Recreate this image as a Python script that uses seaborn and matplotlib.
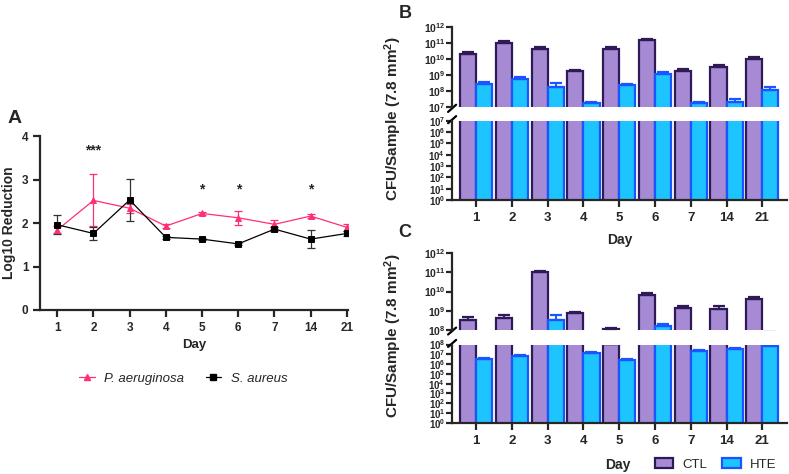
import seaborn as sns
import matplotlib.pyplot as plt
import matplotlib.ticker as mticker
from matplotlib.lines import Line2D
from matplotlib.patches import Patch
import numpy as np
import pandas as pd

# ---- data ----
days = [1, 2, 3, 4, 5, 6, 7, 14, 21]

# panel A: log10 reduction
pa_mean = [1.84, 2.52, 2.34, 1.93, 2.22, 2.12, 1.97, 2.16, 1.90]
pa_err = [0.08, 0.60, 0.10, 0.05, 0.04, 0.16, 0.10, 0.04, 0.08]
sa_mean = [1.96, 1.76, 2.53, 1.67, 1.63, 1.52, 1.86, 1.63, 1.76]
sa_err = [0.22, 0.14, 0.48, 0.03, 0.03, 0.03, 0.04, 0.21, 0.05]
stars = {2: '***', 5: '*', 6: '*', 14: '*'}

# panel B: CFU/sample
b_ctl = [2.1e10, 1.05e11, 4.3e10, 1.7e9, 4.0e10, 1.5e11, 1.7e9, 3.0e9, 1.0e10]
b_ctl_err = [0.6e10, 0.3e11, 1.0e10, 0.4e9, 1.5e10, 0.4e11, 0.6e9, 1.0e9, 0.3e10]
b_hte = [2.8e8, 5.8e8, 1.8e8, 1.7e7, 2.3e8, 1.2e9, 1.7e7, 2.2e7, 1.2e8]
b_hte_err = [0.7e8, 1.5e8, 1.3e8, 0.5e7, 0.5e8, 0.3e9, 0.4e7, 1.0e7, 0.6e8]

# panel C: CFU/sample
c_ctl = [3.3e8, 4.2e8, 1.0e11, 7.6e8, 1.07e8, 6.5e9, 1.45e9, 1.3e9, 4.0e9]
c_ctl_err = [1.2e8, 1.8e8, 0.15e11, 0.8e8, 0.2e8, 1.5e9, 0.3e9, 0.5e9, 1.0e9]
c_hte = [3.3e6, 7.0e6, 3.3e8, 1.5e7, 2.7e6, 1.55e8, 2.3e7, 3.4e7, 7.3e7]
c_hte_err = [0.8e6, 1.5e6, 2.8e8, 0.4e7, 0.6e6, 0.4e8, 0.6e7, 0.9e7, 0.8e7]

PINK = '#ff2d7a'
CTL_FILL, CTL_EDGE = '#a68bd4', '#2e1a56'
HTE_FILL, HTE_EDGE = '#1ec4ff', '#1a55ff'

sns.set_style('ticks')
plt.rcParams['font.family'] = ['Liberation Sans', 'DejaVu Sans']
plt.rcParams['mathtext.fontset'] = 'custom'
plt.rcParams['mathtext.rm'] = 'Liberation Sans'
plt.rcParams['mathtext.bf'] = 'Liberation Sans:bold'
plt.rcParams['axes.linewidth'] = 1.6

fig = plt.figure(figsize=(7.89, 4.74), dpi=100)

# ---------------- panel A ----------------
axA = fig.add_axes([0.051, 0.346, 0.39, 0.367])
dfA = pd.DataFrame({
    'day': days * 2,
    'val': pa_mean + sa_mean,
    'sp': ['P. aeruginosa'] * 9 + ['S. aureus'] * 9,
})
sns.pointplot(data=dfA, x='day', y='val', hue='sp', ax=axA,
              palette={'P. aeruginosa': PINK, 'S. aureus': 'black'},
              markers=['^', 's'], markersize=5, linewidth=0.9,
              errorbar=None, legend=False)
axA.errorbar(range(9), pa_mean, yerr=pa_err, fmt='none', ecolor=PINK,
             elinewidth=0.9, capsize=3, capthick=0.9, zorder=1)
axA.errorbar(range(9), sa_mean, yerr=sa_err, fmt='none', ecolor='#333333',
             elinewidth=0.9, capsize=3, capthick=0.9, zorder=1)
for i, d in enumerate(days):
    if d in stars:
        y = 3.5 if stars[d] == '***' else 2.62
        axA.text(i, y, stars[d], ha='center', va='bottom', fontsize=10, fontweight='bold')
axA.set_ylim(0, 4)
axA.set_xlim(-0.47, 8.03)
axA.set_yticks([0, 1, 2, 3, 4])
axA.set_ylabel('Log10 Reduction', fontsize=10, fontweight='bold')
axA.set_xlabel('Day', fontsize=9.5, fontweight='bold')
axA.tick_params(labelsize=8.5, width=1.6, length=5)
for lab in axA.get_xticklabels() + axA.get_yticklabels():
    lab.set_fontweight('bold')
sns.despine(ax=axA)
handles = [Line2D([], [], color=PINK, marker='^', markersize=5, lw=0.9),
           Line2D([], [], color='black', marker='s', markersize=5, lw=0.9)]
axA.legend(handles, ['P. aeruginosa', 'S. aureus'], loc='upper center',
           bbox_to_anchor=(0.465, -0.29), ncol=2, frameon=False,
           prop={'style': 'italic', 'size': 9.5}, handlelength=1.2,
           columnspacing=1.6, handletextpad=0.7)
fig.text(0.01, 0.74, 'A', fontsize=14, fontweight='bold')


# ---------------- panels B and C (broken log axes) ----------------
def fmt_pow(v, pos):
    return r'$\mathbf{10^{%d}}$' % int(round(np.log10(v)))


def broken_panel(top_rect, bot_rect, ctl, ctl_err, hte, hte_err, top_lim, bot_lim):
    df = pd.DataFrame({
        'day': days * 2,
        'cfu': ctl + hte,
        'grp': ['CTL'] * 9 + ['HTE'] * 9,
    })
    ax_t = fig.add_axes(top_rect)
    ax_b = fig.add_axes(bot_rect)
    for ax, lim in ((ax_t, top_lim), (ax_b, bot_lim)):
        ax.set_yscale('log')
        sns.barplot(data=df, x='day', y='cfu', hue='grp', ax=ax, width=0.9,
                    palette={'CTL': CTL_FILL, 'HTE': HTE_FILL}, saturation=1,
                    linewidth=1.6, legend=False)
        for cont, ec, errs, vals in ((ax.containers[0], CTL_EDGE, ctl_err, ctl),
                                      (ax.containers[1], HTE_EDGE, hte_err, hte)):
            xs = []
            for p in cont:
                p.set_edgecolor(ec)
                xs.append(p.get_x() + p.get_width() / 2)
            ax.errorbar(xs, vals, yerr=[np.zeros(len(vals)), errs], fmt='none',
                        ecolor=ec, elinewidth=1.4, capsize=4.5, capthick=1.6, zorder=3)
        ax.set_ylim(*lim)
        ax.set_xlim(-0.67, 8.7)
        ax.yaxis.set_major_locator(mticker.LogLocator(base=10, numticks=20))
        ax.yaxis.set_minor_locator(mticker.NullLocator())
        ax.yaxis.set_major_formatter(mticker.FuncFormatter(fmt_pow))
        ax.tick_params(axis='y', labelsize=7.5, width=1.6, length=4, pad=1)
        ax.set_ylabel('')
        ax.set_xlabel('')
        for s in ('top', 'right'):
            ax.spines[s].set_visible(False)
    ax_t.spines['bottom'].set_visible(False)
    ax_t.tick_params(axis='x', bottom=False, labelbottom=False)
    ax_b.tick_params(axis='x', labelsize=9.5, width=1.6, length=5)
    ax_b.tick_params(axis='y', labelsize=7)
    for lab in ax_b.get_xticklabels():
        lab.set_fontweight('bold')
    # break marks
    kw = dict(color='black', lw=1.6, clip_on=False)
    ax_t.plot([-0.012, 0.012], [-0.06, 0.03], transform=ax_t.transAxes, **kw)
    ax_b.plot([-0.012, 0.012], [0.97, 1.06], transform=ax_b.transAxes, **kw)
    return ax_t, ax_b


bt, bb = broken_panel([0.573, 0.774, 0.425, 0.169], [0.573, 0.578, 0.425, 0.167],
                      b_ctl, b_ctl_err, b_hte, b_hte_err, (1e7, 1e12), (1, 1e7))
ct, cb = broken_panel([0.573, 0.304, 0.425, 0.162], [0.573, 0.108, 0.425, 0.165],
                      c_ctl, c_ctl_err, c_hte, c_hte_err, (1e8, 1e12), (1, 1e8))

ylab = 'CFU/Sample (7.8 mm$\\mathbf{^2}$)'
fig.text(0.498, 0.749, ylab, rotation=90, ha='center', va='center',
         fontsize=11, fontweight='bold')
fig.text(0.498, 0.292, ylab, rotation=90, ha='center', va='center',
         fontsize=11, fontweight='bold')
fig.text(0.785, 0.494, 'Day', ha='center', va='center', fontsize=10, fontweight='bold')
fig.text(0.783, 0.019, 'Day', ha='center', va='center', fontsize=10, fontweight='bold')
fig.text(0.505, 0.962, 'B', fontsize=13, fontweight='bold')
fig.text(0.505, 0.5, 'C', fontsize=13, fontweight='bold')

leg_h = [Patch(facecolor=CTL_FILL, edgecolor=CTL_EDGE, linewidth=1.6),
         Patch(facecolor=HTE_FILL, edgecolor=HTE_EDGE, linewidth=1.6)]
fig.legend(leg_h, ['CTL', 'HTE'], loc='center', bbox_to_anchor=(0.907, 0.02),
           ncol=2, frameon=False, fontsize=9.5, handlelength=1.4, handleheight=0.7,
           columnspacing=1.1, handletextpad=0.7)

fig.savefig('out.png', dpi=100)
